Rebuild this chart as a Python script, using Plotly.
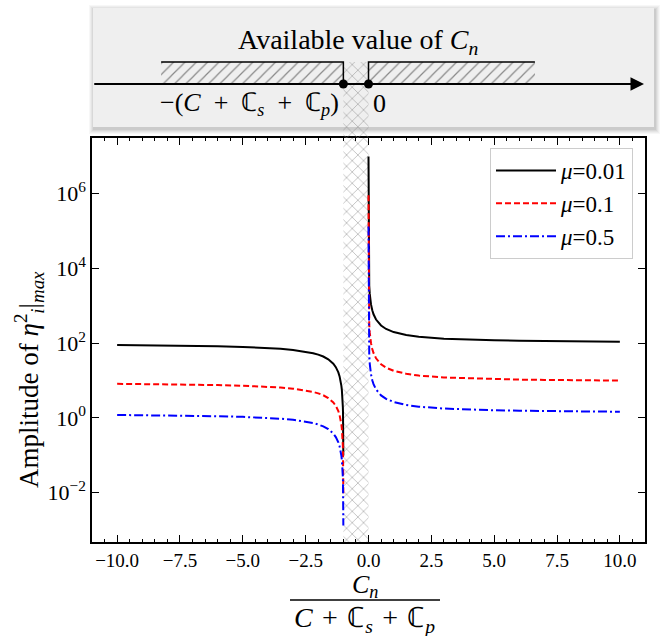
import plotly.graph_objects as go

W, H = 660, 636

# ---------------- data ----------------
x_left = [-10, -9, -8, -7, -6, -5, -4, -3.5, -3, -2.5, -2.2, -2, -1.8, -1.6, -1.5,
          -1.4, -1.3, -1.25, -1.2, -1.15, -1.12, -1.1, -1.08, -1.06, -1.05, -1.04,
          -1.03, -1.02, -1.015, -1.01, -1.007, -1.005, -1.003, -1.002, -1.001]
x_right = [1e-5, 2e-5, 5e-5, 1e-4, 2e-4, 5e-4, 0.001, 0.002, 0.005, 0.01, 0.02, 0.03,
           0.05, 0.07, 0.1, 0.15, 0.2, 0.3, 0.4, 0.5, 0.7, 1, 1.5, 2, 3, 4, 5, 6, 7,
           8, 9, 10]

series_names = ["<i>μ</i>=0.01", "<i>μ</i>=0.1", "<i>μ</i>=0.5"]

amp_mu001_left = [89.1, 88.0, 86.6, 84.9, 82.5, 79.2, 74.3, 70.7, 66.0, 59.4, 54.0, 49.5,
                  44.0, 37.1, 33.0, 28.3, 22.8, 19.8, 16.5, 12.9, 10.6, 9.0, 7.33, 5.60,
                  4.71, 3.81, 2.88, 1.94, 1.46, 0.98, 0.688, 0.493, 0.296, 0.198, 0.099]
amp_mu001_right = [9.9e6, 4.95e6, 1.98e6, 9.9e5, 4.95e5, 1.98e5, 9.91e4, 4.96e4, 1.99e4,
                   1.0e4, 5.05e3, 3.40e3, 2.08e3, 1.51e3, 1.09e3, 759, 594, 429, 347,
                   297, 240, 198, 165, 149, 132, 124, 119, 116, 113, 111, 110, 109]

amp_mu01_left = [8.18, 8.08, 7.95, 7.79, 7.58, 7.27, 6.82, 6.49, 6.06, 5.45, 4.96, 4.55,
                 4.04, 3.41, 3.03, 2.60, 2.10, 1.82, 1.52, 1.19, 0.974, 0.826, 0.673,
                 0.515, 0.433, 0.350, 0.265, 0.178, 0.135, 0.090, 0.0632, 0.0452, 0.0272,
                 0.0181, 0.00908]
amp_mu01_right = [9.09e5, 4.55e5, 1.82e5, 9.09e4, 4.55e4, 1.82e4, 9.10e3, 4.55e3, 1.83e3,
                  918, 464, 312, 191, 139, 100, 69.7, 54.5, 39.4, 31.8, 27.3, 22.1, 18.2,
                  15.2, 13.6, 12.1, 11.4, 10.9, 10.6, 10.4, 10.2, 10.1, 10.0]

amp_mu05_left = [1.20, 1.185, 1.167, 1.143, 1.111, 1.067, 1.000, 0.952, 0.889, 0.800,
                 0.727, 0.667, 0.593, 0.500, 0.444, 0.381, 0.308, 0.267, 0.222, 0.174,
                 0.143, 0.121, 0.0988, 0.0755, 0.0635, 0.0513, 0.0388, 0.0261, 0.0197,
                 0.0132, 0.00927, 0.00663, 0.00399, 0.00266, 0.00133]
amp_mu05_right = [1.33e5, 6.67e4, 2.67e4, 1.33e4, 6.67e3, 2.67e3, 1.34e3, 668, 268, 135,
                  68.0, 45.8, 28.0, 20.4, 14.7, 10.2, 8.0, 5.78, 4.67, 4.0, 3.24, 2.67,
                  2.22, 2.0, 1.78, 1.67, 1.6, 1.56, 1.52, 1.50, 1.48, 1.47]

y_tickvals = [1e-2, 1e0, 1e2, 1e4, 1e6]
y_ticktext = ["10<sup>−2</sup>", "10<sup>0</sup>", "10<sup>2</sup>", "10<sup>4</sup>", "10<sup>6</sup>"]

# forbidden band in normalized C_n, and available (hatched) ranges in top diagram
band_x = [-1, 0]
avail_left = [-8.25, -1]
avail_right = [0, 6.62]

# ---------------- helpers (layout positions in pixels) ----------------
def px(x):
    return x / W

def py(y):
    return 1 - y / H

SERIF = "Liberation Serif"
EN = "\u2002"     # en space (wide spacing around binary operators)
TS = "\u2004"     # three-per-em space
colors = ["black", "red", "blue"]
dashes = ["solid", "6px,3px", "9px,3px,2px,3px"]
XHATCH = dict(shape="x", fgcolor="#858585", bgcolor="rgba(255,255,255,0)",
              size=8, solidity=0.22)

fig = go.Figure()

# crosshatch band inside main plot (drawn first -> underneath curves)
fig.add_trace(go.Scatter(
    x=[band_x[0], band_x[1], band_x[1], band_x[0], band_x[0]],
    y=[1e-5, 1e-5, 1e9, 1e9, 1e-5],
    xaxis="x", yaxis="y", mode="lines", line=dict(width=0), fill="toself",
    fillcolor="rgba(0,0,0,0)", fillpattern=XHATCH,
    showlegend=False, hoverinfo="skip"))

# curves
lefts = [amp_mu001_left, amp_mu01_left, amp_mu05_left]
rights = [amp_mu001_right, amp_mu01_right, amp_mu05_right]
for name, yl, yr, c, d in zip(series_names, lefts, rights, colors, dashes):
    fig.add_trace(go.Scatter(
        x=x_left + [None] + x_right, y=yl + [None] + yr,
        xaxis="x", yaxis="y", mode="lines", name=name,
        line=dict(color=c, width=2, dash=d), connectgaps=False))

# ---------------- top diagram (subplot x2/y2, y value = 138 - pixel) ----------------
ARROW_V = 138 - 84
HATCH_TOP_V = 138 - 62

# crosshatch band continuation
fig.add_trace(go.Scatter(
    x=[band_x[0], band_x[1], band_x[1], band_x[0], band_x[0]],
    y=[-5, -5, HATCH_TOP_V, HATCH_TOP_V, -5],
    xaxis="x2", yaxis="y2", mode="lines", line=dict(width=0), fill="toself",
    fillcolor="rgba(0,0,0,0)", fillpattern=XHATCH,
    showlegend=False, hoverinfo="skip"))

for seg in (avail_left, avail_right):
    fig.add_trace(go.Scatter(
        x=[seg[0], seg[1], seg[1], seg[0], seg[0]],
        y=[ARROW_V, ARROW_V, HATCH_TOP_V, HATCH_TOP_V, ARROW_V],
        xaxis="x2", yaxis="y2", mode="lines", line=dict(width=0), fill="toself",
        fillcolor="rgba(0,0,0,0)",
        fillpattern=dict(shape="/", fgcolor="#222222", bgcolor="rgba(0,0,0,0)",
                         size=8, solidity=0.15),
        showlegend=False, hoverinfo="skip"))

# outlines of available ranges (top edge and inner vertical edge)
fig.add_trace(go.Scatter(
    x=[avail_left[0], avail_left[1], avail_left[1], None,
       avail_right[1], avail_right[0], avail_right[0]],
    y=[HATCH_TOP_V, HATCH_TOP_V, ARROW_V, None, HATCH_TOP_V, HATCH_TOP_V, ARROW_V],
    xaxis="x2", yaxis="y2", mode="lines", line=dict(color="black", width=1.5),
    showlegend=False, hoverinfo="skip"))

# end-point dots
fig.add_trace(go.Scatter(
    x=band_x, y=[ARROW_V, ARROW_V], xaxis="x2", yaxis="y2", mode="markers",
    marker=dict(color="black", size=9), cliponaxis=False,
    showlegend=False, hoverinfo="skip"))

shapes = []
# shadow of the top box
for i, a in enumerate([0.03, 0.035, 0.04, 0.05, 0.06]):
    g = 5 - i
    shapes.append(dict(type="rect", xref="paper", yref="paper", layer="below",
                       x0=px(93 - g + 1), x1=px(654 + g + 1),
                       y0=py(127 + g + 2), y1=py(8 - g + 2),
                       fillcolor=f"rgba(0,0,0,{a})", line=dict(width=0)))
shapes.append(dict(type="rect", xref="paper", yref="paper", layer="below",
                   x0=px(93), x1=px(654), y0=py(127), y1=py(8),
                   fillcolor="#efefef", line=dict(width=0)))
# fraction bar of x-axis title
shapes.append(dict(type="line", xref="paper", yref="paper",
                   x0=px(290), x1=px(440), y0=py(600), y1=py(600),
                   line=dict(color="black", width=1.3)))

annotations = [
    # axis arrow of the top diagram
    dict(xref="x2", yref="y2", axref="x2", ayref="y2", x=10.96, y=ARROW_V,
         ax=-10.97, ay=ARROW_V, text="", showarrow=True, arrowhead=2,
         arrowsize=1.5, arrowwidth=1.8, arrowcolor="black", standoff=0),
    dict(xref="paper", yref="paper", x=px(358), y=py(42), xanchor="center",
         yanchor="middle", showarrow=False,
         text="Available value of <i>C<sub>n</sub></i>",
         font=dict(family=SERIF, size=28, color="black")),
    dict(xref="paper", yref="paper", x=px(341), y=py(104), xanchor="right",
         yanchor="middle", showarrow=False,
         text=f"−(<i>C</i>{EN}+{EN}ℂ<sub><i>s</i></sub>{EN}+{EN}ℂ<sub><i>p</i></sub>)",
         font=dict(family=SERIF, size=26, color="black")),
    dict(xref="paper", yref="paper", x=px(371), y=py(104), xanchor="left",
         yanchor="middle", showarrow=False, text="0",
         font=dict(family=SERIF, size=26, color="black")),
    # x-axis title as a fraction
    dict(xref="paper", yref="paper", x=px(365), y=py(586), xanchor="center",
         yanchor="middle", showarrow=False, text="<i>C<sub>n</sub></i>",
         font=dict(family=SERIF, size=26, color="black")),
    dict(xref="paper", yref="paper", x=px(365), y=py(619), xanchor="center",
         yanchor="middle", showarrow=False,
         text=f"<i>C</i>{TS}+{TS}ℂ<sub><i>s</i></sub>{TS}+{TS}ℂ<sub><i>p</i></sub>",
         font=dict(family=SERIF, size=28, color="black")),
    # y-axis title
    dict(xref="paper", yref="paper", x=px(29), y=py(380), xanchor="center",
         yanchor="middle", showarrow=False, textangle=-90,
         text="Amplitude of <i>η</i><sup>2</sup><sub><i>i</i></sub>|<sub><i>max</i></sub>",
         font=dict(family=SERIF, size=27, color="black")),
]

fig.update_layout(
    width=W, height=H,
    margin=dict(l=0, r=0, t=0, b=0),
    paper_bgcolor="white", plot_bgcolor="rgba(0,0,0,0)",
    font=dict(family=SERIF, color="black"),
    showlegend=True,
    legend=dict(x=px(633), y=py(148), xanchor="right", yanchor="top",
                bgcolor="rgba(255,255,255,0.9)", bordercolor="#cccccc", borderwidth=1,
                font=dict(family=SERIF, size=23, color="black"),
                itemwidth=60, tracegroupgap=0),
    xaxis=dict(domain=[px(92), px(645)], range=[-11, 11], anchor="y",
               tick0=-10, dtick=2.5, tickformat=".1f",
               ticks="inside", ticklen=7, tickwidth=1.2, tickcolor="black",
               minor=dict(dtick=0.5, tick0=-10, ticks="inside", ticklen=3.5,
                          tickwidth=1, tickcolor="black"),
               mirror="allticks", showline=True, linecolor="black", linewidth=1.5,
               showgrid=False, zeroline=False,
               tickfont=dict(family=SERIF, size=19, color="black")),
    yaxis=dict(domain=[py(542), py(138)], type="log", range=[-3.32, 7.49], anchor="x",
               tickvals=y_tickvals, ticktext=y_ticktext,
               ticks="inside", ticklen=7, tickwidth=1.2, tickcolor="black",
               mirror="allticks", showline=True, linecolor="black", linewidth=1.5,
               showgrid=False, zeroline=False,
               tickfont=dict(family=SERIF, size=22, color="black")),
    xaxis2=dict(domain=[px(92), px(645)], range=[-11, 11], anchor="y2", visible=False),
    yaxis2=dict(domain=[py(138), py(8)], range=[0, 130], anchor="x2", visible=False),
    shapes=shapes,
    annotations=annotations,
)

fig.write_html("out.html", config={"displayModeBar": False},
               post_script="document.body.style.margin='0';document.body.style.padding='0';")
